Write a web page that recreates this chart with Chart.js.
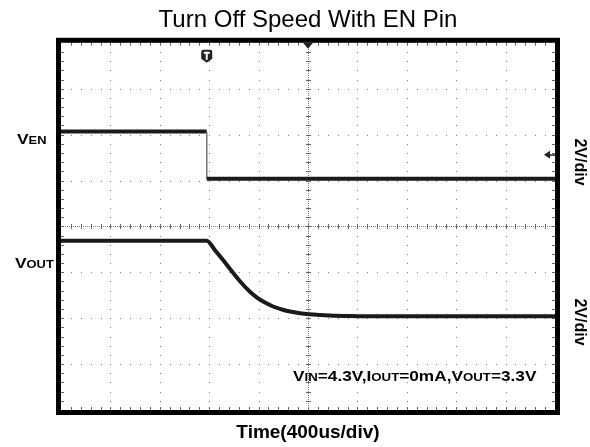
<!DOCTYPE html>
<html>
<head>
<meta charset="utf-8">
<script src="https://cdn.jsdelivr.net/npm/chart.js@4/dist/chart.umd.min.js"></script>
<style>
  html, body { margin: 0; padding: 0; background: #fff; }
</style>
</head>
<body>
<canvas id="scopeChart" width="590" height="447"></canvas>
<script>
'use strict';

// scope settings
var timeDivUs = 400;      // 400us/div, 10 divisions
var voltsPerDiv = 2;      // 2V/div for both channels
var enOffsetDiv = 1.04;   // channel ground positions, in divisions from centre
var voutOffsetDiv = -1.96;
var triggerLevelV = 1.04;

// EN channel (V)
var enTimeUs = [0, 1180, 1180, 4000];
var enVolts  = [2.05, 2.05, 0, 0];

// VOUT channel (V)
var voutTimeUs = [0, 1180, 1247, 1314, 1377, 1449, 1530, 1587, 1652, 1717, 1790, 1854, 1935, 2040, 2178, 2340, 2580, 4000];
var voutVolts  = [3.3, 3.3, 2.88, 2.44, 2.01, 1.53, 1.07, 0.82, 0.6, 0.43, 0.3, 0.21, 0.14, 0.08, 0.04, 0.015, 0, 0];

var FONT = "'Liberation Sans', Arial, Helvetica, sans-serif";

function toPoints(times, volts, offset) {
    return times.map(function (t, i) {
        return { x: t, y: offset + volts[i] / voltsPerDiv };
    });
}

function dot(ctx, x, y) {
    ctx.fillRect(Math.round(x), Math.round(y), 1, 1);
}

// text like V<small>EN</small>, slightly stretched like the scope print
function drawCapsText(ctx, parts, x, y, big, small, stretch) {
    ctx.save();
    ctx.translate(x, y);
    ctx.scale(stretch, 1);
    ctx.textBaseline = 'alphabetic';
    ctx.textAlign = 'left';
    var cx = 0;
    parts.forEach(function (p) {
        ctx.font = 'bold ' + (p[1] ? small : big) + 'px ' + FONT;
        ctx.fillText(p[0], cx, 0);
        cx += ctx.measureText(p[0]).width;
    });
    ctx.restore();
}

var scopeDecor = {
    id: 'scopeDecor',
    beforeDatasetsDraw: function (chart) {
        var ctx = chart.ctx, xs = chart.scales.x, ys = chart.scales.y, a = chart.chartArea;
        var i, j, px, py;
        ctx.save();
        ctx.fillStyle = '#7a7a7a';
        // dotted graticule
        for (i = 1; i < 10; i++) {
            if (i === 5) continue;
            px = xs.getPixelForValue(i * timeDivUs);
            for (j = 1; j < 40; j++) dot(ctx, px, ys.getPixelForValue(-4 + j * 0.2));
        }
        for (i = -3; i <= 3; i++) {
            if (i === 0) continue;
            py = ys.getPixelForValue(i);
            for (j = 1; j < 50; j++) dot(ctx, xs.getPixelForValue(j * timeDivUs / 5), py);
        }
        // centre cross with minor ticks
        var cx = Math.round(xs.getPixelForValue(5 * timeDivUs));
        var cy = Math.round(ys.getPixelForValue(0));
        for (py = a.top; py < a.bottom; py += 2) dot(ctx, cx, py);
        for (px = a.left; px < a.right; px += 2) dot(ctx, px, cy);
        ctx.fillStyle = '#666';
        for (j = 1; j < 40; j++) {
            py = Math.round(ys.getPixelForValue(-4 + j * 0.2));
            ctx.fillRect(cx - 2, py, 5, 1);
            ctx.fillRect(a.left, py, 3, 1);
            ctx.fillRect(a.right - 3, py, 3, 1);
        }
        for (j = 1; j < 50; j++) {
            px = Math.round(xs.getPixelForValue(j * timeDivUs / 5));
            ctx.fillRect(px, cy - 2, 1, 5);
            ctx.fillRect(px, a.top, 1, 3);
            ctx.fillRect(px, a.bottom - 3, 1, 3);
        }
        ctx.restore();
    },
    afterDatasetsDraw: function (chart) {
        var ctx = chart.ctx, xs = chart.scales.x, ys = chart.scales.y, a = chart.chartArea;
        ctx.save();
        // frame
        ctx.strokeStyle = '#000';
        ctx.lineWidth = 5;
        ctx.strokeRect(a.left - 2.5, a.top - 2.5, a.width + 5, a.height + 5);

        ctx.fillStyle = '#222';
        // trigger position marker (top centre)
        var cx = xs.getPixelForValue(5 * timeDivUs);
        ctx.beginPath();
        ctx.moveTo(cx - 5, a.top);
        ctx.lineTo(cx + 5, a.top);
        ctx.lineTo(cx, a.top + 6);
        ctx.closePath();
        ctx.fill();

        // "T" trigger point badge
        var tx = xs.getPixelForValue(enTimeUs[1]);
        var ty = a.top + 7;
        ctx.beginPath();
        ctx.moveTo(tx - 5.5, ty + 2);
        ctx.quadraticCurveTo(tx - 5.5, ty, tx - 3.5, ty);
        ctx.lineTo(tx + 3.5, ty);
        ctx.quadraticCurveTo(tx + 5.5, ty, tx + 5.5, ty + 2);
        ctx.lineTo(tx + 5.5, ty + 9);
        ctx.lineTo(tx, ty + 13);
        ctx.lineTo(tx - 5.5, ty + 9);
        ctx.closePath();
        ctx.fill();
        ctx.fillStyle = '#fff';
        ctx.fillRect(tx - 3, ty + 2, 6, 2);
        ctx.fillRect(tx - 1, ty + 2, 2, 8);

        // trigger level arrow (right edge)
        var ly = ys.getPixelForValue(enOffsetDiv + triggerLevelV / voltsPerDiv);
        ctx.fillStyle = '#222';
        ctx.beginPath();
        ctx.moveTo(a.right - 11, ly);
        ctx.lineTo(a.right - 5, ly - 4);
        ctx.lineTo(a.right - 5, ly + 4);
        ctx.closePath();
        ctx.fill();
        ctx.fillRect(a.right - 6, ly - 0.5, 6, 1.5);

        // channel labels
        ctx.fillStyle = '#000';
        var enY = ys.getPixelForValue(enOffsetDiv + enVolts[0] / voltsPerDiv);
        var voY = ys.getPixelForValue(voutOffsetDiv + voutVolts[0] / voltsPerDiv);
        drawCapsText(ctx, [['V'], ['EN', 1]], 17, enY + 12, 15.5, 11.5, 1.12);
        drawCapsText(ctx, [['V'], ['OUT', 1]], 15, voY + 27, 15.5, 11.5, 1.12);

        drawCapsText(ctx, [['V'], ['IN', 1], ['=4.3V,I'], ['OUT', 1], ['=0mA,V'], ['OUT', 1], ['=3.3V']],
            293, 380.5, 15, 11.5, 1.15);

        // vertical scale labels
        ctx.font = 'bold 16px ' + FONT;
        ctx.textAlign = 'center';
        ctx.textBaseline = 'middle';
        [162, 322].forEach(function (yy) {
            ctx.save();
            ctx.translate(579, yy);
            ctx.rotate(Math.PI / 2);
            ctx.fillText('2V/div', 0, 0);
            ctx.restore();
        });
        ctx.restore();
    }
};

var scopeChart = new Chart(document.getElementById('scopeChart'), {
    type: 'line',
    data: {
        datasets: [
            {
                label: 'VEN',
                data: toPoints(enTimeUs, enVolts, enOffsetDiv),
                borderColor: '#1a1a1a',
                borderWidth: 4,
                pointRadius: 0,
                tension: 0,
                segment: {
                    borderWidth: function (ctx) { return ctx.p0.parsed.x === ctx.p1.parsed.x ? 1 : 4; },
                    borderColor: function (ctx) { return ctx.p0.parsed.x === ctx.p1.parsed.x ? '#777' : '#1a1a1a'; }
                }
            },
            {
                label: 'VOUT',
                data: toPoints(voutTimeUs, voutVolts, voutOffsetDiv),
                borderColor: '#1a1a1a',
                borderWidth: 4,
                pointRadius: 0,
                cubicInterpolationMode: 'monotone'
            }
        ]
    },
    options: {
        responsive: false,
        animation: false,
        layout: { padding: { left: 61, right: 35, top: 2, bottom: 2 } },
        plugins: {
            legend: { display: false },
            tooltip: { enabled: false },
            title: {
                display: true,
                text: 'Turn Off Speed With EN Pin',
                color: '#000',
                font: { family: FONT, size: 24, weight: 'normal' },
                padding: { top: 4, bottom: 8 }
            }
        },
        scales: {
            x: {
                type: 'linear',
                min: 0,
                max: 10 * timeDivUs,
                grid: { display: false, drawTicks: false },
                border: { display: false },
                ticks: { display: false },
                title: {
                    display: true,
                    text: 'Time(400us/div)',
                    color: '#000',
                    font: { family: FONT, size: 19, weight: 'bold' },
                    padding: { top: 11.6, bottom: 0.6 }
                }
            },
            y: {
                type: 'linear',
                display: false,
                min: -4,
                max: 4
            }
        }
    },
    plugins: [scopeDecor]
});
</script>
</body>
</html>
